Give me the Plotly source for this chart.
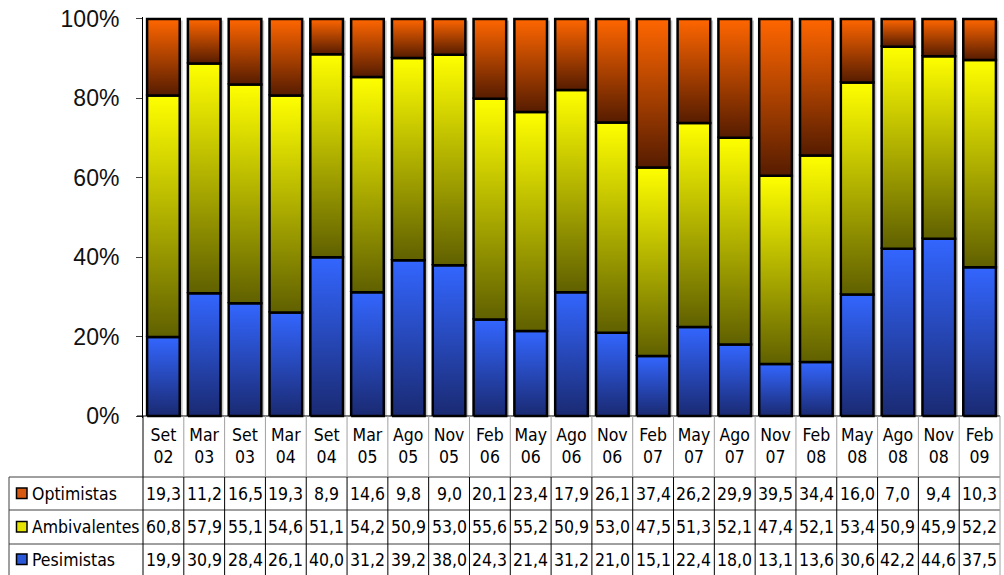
import plotly.graph_objects as go

# Survey periods and shares (%) per group
periodos = ["Set 02", "Mar 03", "Set 03", "Mar 04", "Set 04", "Mar 05", "Ago 05",
            "Nov 05", "Feb 06", "May 06", "Ago 06", "Nov 06", "Feb 07", "May 07",
            "Ago 07", "Nov 07", "Feb 08", "May 08", "Ago 08", "Nov 08", "Feb 09"]
optimistas = [19.3, 11.2, 16.5, 19.3, 8.9, 14.6, 9.8, 9.0, 20.1, 23.4, 17.9,
              26.1, 37.4, 26.2, 29.9, 39.5, 34.4, 16.0, 7.0, 9.4, 10.3]
ambivalentes = [60.8, 57.9, 55.1, 54.6, 51.1, 54.2, 50.9, 53.0, 55.6, 55.2, 50.9,
                53.0, 47.5, 51.3, 52.1, 47.4, 52.1, 53.4, 50.9, 45.9, 52.2]
pesimistas = [19.9, 30.9, 28.4, 26.1, 40.0, 31.2, 39.2, 38.0, 24.3, 21.4, 31.2,
              21.0, 15.1, 22.4, 18.0, 13.1, 13.6, 30.6, 42.2, 44.6, 37.5]
y_ticks = [0, 20, 40, 60, 80, 100]

# stacking order bottom -> top: (name, values, dark, bright, key colour)
series = [
    ("Pesimistas", pesimistas, "#1a2a72", "#3366ff", "#2a58d8"),
    ("Ambivalentes", ambivalentes, "#606000", "#ffff00", "#e4e400"),
    ("Optimistas", optimistas, "#561c00", "#ff6600", "#d85a10"),
]

TABLE_FONT = dict(family="DejaVu Sans Condensed, DejaVu Sans", size=17.5, color="black")

W_PX, H_PX = 1004, 575
M_L, M_R, M_T, M_B = 143, 4, 17, 157
Y_RANGE = [-0.5, 100.5]
n = len(periodos)
plot_w = W_PX - M_L - M_R
plot_h = H_PX - M_T - M_B


def px_x(px):
    return (px - M_L) / plot_w


def px_y(py):
    return (H_PX - M_B - py) / plot_h


def val_y(v):
    return (v - Y_RANGE[0]) / (Y_RANGE[1] - Y_RANGE[0])


fig = go.Figure()
BW = 0.8
SH = 0.07

# light drop shadow on the right of each column
for i in range(n):
    x0, x1 = i + BW / 2, i + BW / 2 + SH
    fig.add_trace(go.Scatter(
        x=[x0, x1, x1, x0, x0], y=[0, 0, 99.6, 99.6, 0], mode="lines",
        fill="toself", fillcolor="#c4c4c4", line=dict(width=0),
        hoverinfo="skip", showlegend=False))

# stacked 100% columns with a vertical gradient per segment
for i in range(n):
    total = sum(s[1][i] for s in series)
    base = 0.0
    for name, vals, dark, bright, _ in series:
        top = base + vals[i] / total * 100
        xl, xr = i - BW / 2, i + BW / 2
        fig.add_trace(go.Scatter(
            x=[xl, xr, xr, xl, xl], y=[base, base, top, top, base],
            mode="lines", fill="toself",
            fillgradient=dict(type="vertical", colorscale=[[0, dark], [1, bright]]),
            line=dict(color="black", width=2.5),
            name=name, hoverinfo="skip", showlegend=False))
        base = top

shapes = []
y0p = val_y(0)
bottom = px_y(H_PX)
row_lines = [477, 510, 544]
# 0% baseline
shapes.append(dict(type="line", xref="paper", yref="paper", x0=px_x(137), x1=1,
                   y0=y0p, y1=y0p, line=dict(color="black", width=1)))
# horizontal table rules
for ry in row_lines:
    shapes.append(dict(type="line", xref="paper", yref="paper", x0=px_x(9), x1=1,
                       y0=px_y(ry), y1=px_y(ry), line=dict(color="#404040", width=1)))
# left border of the legend column
shapes.append(dict(type="line", xref="paper", yref="paper", x0=px_x(9), x1=px_x(9),
                   y0=px_y(row_lines[0]), y1=bottom, line=dict(color="#404040", width=1)))
# column separators
for k in range(n + 1):
    xp = k / n
    head_col = "black" if k == 0 else "#a0a0a0"
    body_col = "black" if k < n else "#a0a0a0"
    shapes.append(dict(type="line", xref="paper", yref="paper", x0=xp, x1=xp,
                       y0=y0p, y1=px_y(row_lines[0]), line=dict(color=head_col, width=1)))
    shapes.append(dict(type="line", xref="paper", yref="paper", x0=xp, x1=xp,
                       y0=px_y(row_lines[0]), y1=bottom, line=dict(color=body_col, width=1)))

annotations = []
row_centers = [(477 + 510) / 2, (510 + 544) / 2, (544 + 575) / 2]
table_rows = [series[2], series[1], series[0]]
for (name, vals, dark, bright, key), cy in zip(table_rows, row_centers):
    # legend key
    shapes.append(dict(type="rect", xref="paper", yref="paper",
                       x0=px_x(16.5), x1=px_x(27), y0=px_y(cy - 5.5), y1=px_y(cy + 5),
                       fillcolor=key, line=dict(color="black", width=1.5)))
    annotations.append(dict(text=name, xref="paper", yref="paper", x=px_x(29.5),
                            y=px_y(cy), xanchor="left", yanchor="middle",
                            showarrow=False, font=TABLE_FONT))
    for i, v in enumerate(vals):
        annotations.append(dict(text=f"{v:.1f}".replace(".", ","), xref="x", yref="paper",
                                x=i, y=px_y(cy), xanchor="center", yanchor="middle",
                                showarrow=False, font=TABLE_FONT))

fig.update_layout(
    width=W_PX, height=H_PX,
    margin=dict(l=M_L, r=M_R, t=M_T, b=M_B, pad=0),
    paper_bgcolor="white", plot_bgcolor="white",
    shapes=shapes, annotations=annotations,
    xaxis=dict(range=[-0.5, n - 0.5], tickvals=list(range(n)),
               ticktext=[p.replace(" ", "<br>") for p in periodos],
               showgrid=False, zeroline=False, showline=False, ticks="",
               ticklabelstandoff=4, tickfont=TABLE_FONT),
    yaxis=dict(range=Y_RANGE, tickvals=y_ticks, ticktext=[f"{t}%" for t in y_ticks],
               showgrid=False, zeroline=False, showline=True, linecolor="black",
               linewidth=1, ticks="outside", ticklen=6, tickcolor="#404040",
               ticklabelstandoff=12,
               tickfont=dict(family="Liberation Sans", size=23, color="#111111")),
)

fig.write_html("out.html")
